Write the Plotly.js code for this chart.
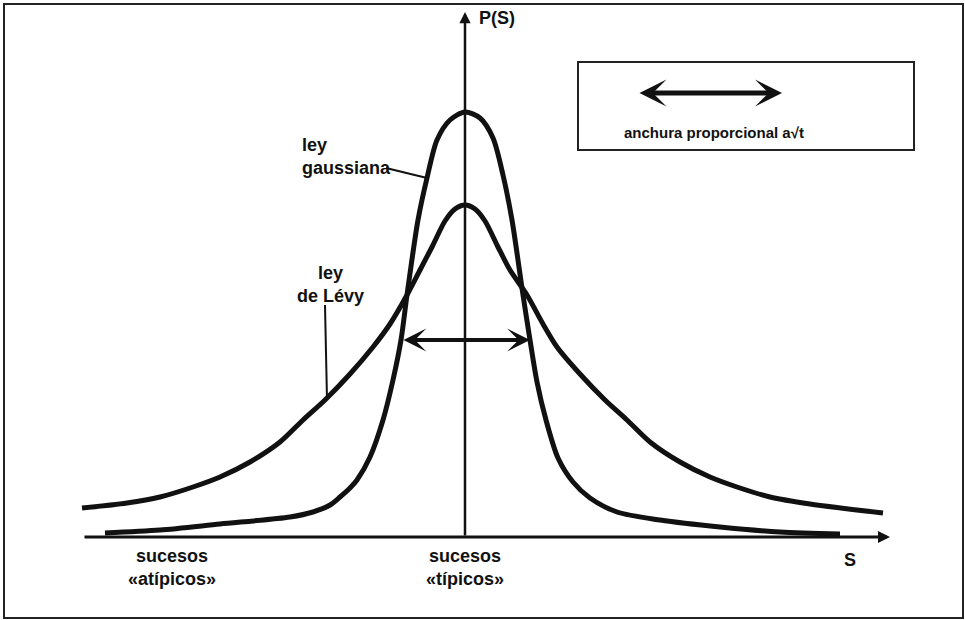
<!DOCTYPE html>
<html>
<head>
<meta charset="utf-8">
<script src="https://cdn.plot.ly/plotly-3.0.1.min.js"></script>
<style>html,body{margin:0;padding:0;background:#fff;}#chart{width:965px;height:620px;}</style>
</head>
<body>
<div id="chart"></div>
<script>
// Gaussian law curve (S, P)
var gaussS = [-3.60,-3.05,-2.45,-1.75,-1.52,-1.35,-1.25,-1.15,-1.08,-0.95,-0.82,-0.72,-0.64,-0.58,-0.47,-0.38,-0.28,-0.15,0.00,
              0.15,0.28,0.38,0.47,0.58,0.65,0.72,0.81,0.93,1.08,1.25,1.52,1.95,2.55,3.15,3.75];
var gaussP = [0.04,0.07,0.13,0.20,0.25,0.32,0.40,0.49,0.57,0.80,1.17,1.57,1.97,2.42,3.17,3.59,3.97,4.17,4.25,
              4.19,3.99,3.62,3.17,2.42,1.97,1.55,1.17,0.79,0.55,0.39,0.25,0.17,0.10,0.05,0.03];
// Lévy law curve (S, P)
var levyS = [-3.83,-3.38,-3.05,-2.72,-2.45,-2.15,-1.85,-1.62,-1.40,-1.15,-0.92,-0.75,-0.58,-0.45,-0.33,-0.20,-0.10,0.00,
             0.10,0.20,0.33,0.45,0.62,0.78,0.92,1.15,1.40,1.62,1.85,2.15,2.45,2.72,3.05,3.45,4.18];
var levyP = [0.29,0.34,0.40,0.50,0.60,0.75,0.95,1.17,1.37,1.63,1.90,2.13,2.42,2.67,2.90,3.16,3.28,3.32,
             3.28,3.16,2.90,2.67,2.42,2.13,1.90,1.63,1.37,1.17,0.95,0.75,0.60,0.50,0.40,0.33,0.24];
// Text labels
var axisLabelY = 'P(S)';
var axisLabelX = 'S';
var labelGauss = 'ley<br>gaussiana';
var labelLevy = 'ley<br>de Lévy';
var labelAtypical = 'sucesos<br>«atípicos»';
var labelTypical = 'sucesos<br>«típicos»';
var legendText = 'anchura proporcional a√t';

var W = 965, H = 620;
var fontFam = 'Arimo, "Liberation Sans", Arial, Helvetica, sans-serif';
var ink = '#111111';

var traces = [
  {x: gaussS, y: gaussP, mode: 'lines', line: {color: ink, width: 5, shape: 'spline', smoothing: 0.8}, hoverinfo: 'skip'},
  {x: levyS, y: levyP, mode: 'lines', line: {color: ink, width: 5, shape: 'spline', smoothing: 0.8}, hoverinfo: 'skip'}
];

function txt(t, x, y, opts) {
  var a = {text: t, x: x, y: y, xref: 'x', yref: 'y', showarrow: false, xanchor: 'center', yanchor: 'middle',
           font: {family: fontFam, size: 18, color: ink, weight: 'bold'}};
  for (var k in opts) a[k] = opts[k];
  return a;
}
function arrow(x, y, ax, ay, opts) {
  var a = {text: '', x: x, y: y, ax: ax, ay: ay, xref: 'x', yref: 'y', axref: 'x', ayref: 'y',
           showarrow: true, arrowcolor: ink, standoff: 0, startstandoff: 0};
  for (var k in opts) a[k] = opts[k];
  return a;
}

var layout = {
  width: W, height: H, autosize: false,
  margin: {l: 0, r: 0, t: 0, b: 0, pad: 0},
  paper_bgcolor: '#ffffff', plot_bgcolor: '#ffffff',
  showlegend: false,
  xaxis: {range: [-4.65, 5.00], visible: false, fixedrange: true},
  yaxis: {range: [-0.83, 5.37], visible: false, fixedrange: true},
  shapes: [
    // outer frame
    {type: 'rect', xref: 'paper', yref: 'paper', x0: 4/W, x1: 963/W, y0: 1-618/H, y1: 1-4/H,
     line: {color: '#222', width: 2}},
    // legend box
    {type: 'rect', xref: 'paper', yref: 'paper', x0: 578/W, x1: 914/W, y0: 1-150/H, y1: 1-62/H,
     line: {color: '#222', width: 2}},
    // leader lines
    {type: 'line', xref: 'x', yref: 'y', x0: -0.79, y0: 3.69, x1: -0.38, y1: 3.59, line: {color: ink, width: 2}},
    {type: 'line', xref: 'x', yref: 'y', x0: -1.40, y0: 2.32, x1: -1.38, y1: 1.37, line: {color: ink, width: 2}}
  ],
  annotations: [
    // axes with arrows
    arrow(4.25, 0, -3.82, 0, {arrowhead: 2, arrowwidth: 3, arrowsize: 0.8}),
    arrow(0, 5.25, 0, 0, {arrowhead: 2, arrowwidth: 2.5, arrowsize: 0.9}),
    // width double arrow
    arrow(0.65, 1.97, -0.63, 1.97, {arrowhead: 3, startarrowhead: 3, arrowside: 'end+start', arrowwidth: 4, arrowsize: 0.95, startarrowsize: 0.95}),
    // legend double arrow
    {text: '', xref: 'paper', yref: 'paper', x: 782/W, y: 1-93/H, ax: -144, ay: 0,
     showarrow: true, arrowcolor: ink, arrowhead: 3, startarrowhead: 3, arrowside: 'end+start',
     arrowwidth: 5, arrowsize: 0.9, startarrowsize: 0.9, standoff: 0, startstandoff: 0},
    {text: legendText, xref: 'paper', yref: 'paper', x: 714/W, y: 1-132/H, showarrow: false,
     xanchor: 'center', yanchor: 'middle',
     font: {family: fontFam, size: 15, color: ink, weight: 'bold'}},
    // labels
    txt(axisLabelY, 0.12, 5.19, {xanchor: 'left'}),
    txt(axisLabelX, 3.85, -0.23, {}),
    txt(labelGauss, -1.65, 3.81, {xanchor: 'left', align: 'left'}),
    txt(labelLevy, -1.35, 2.53, {align: 'center'}),
    txt(labelAtypical, -2.93, -0.30, {align: 'center'}),
    txt(labelTypical, 0.0, -0.30, {align: 'center'})
  ]
};

Plotly.newPlot('chart', traces, layout, {staticPlot: true, displayModeBar: false});
</script>
</body>
</html>
